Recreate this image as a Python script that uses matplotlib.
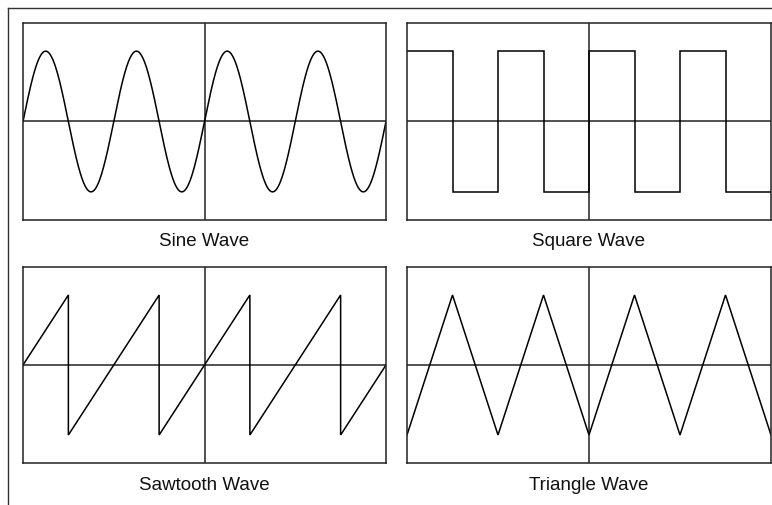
import numpy as np
import matplotlib
matplotlib.use("Agg")
import matplotlib.pyplot as plt
from matplotlib.lines import Line2D

plt.rcParams['font.family'] = ['Liberation Sans', 'DejaVu Sans']

# ---- data ----
titles = ["Sine Wave", "Square Wave", "Sawtooth Wave", "Triangle Wave"]

# sine: number of cycles shown and amplitude
sine_cycles = 4
sine_amp = 1.0

# piecewise-linear waves as vertices (x in cycles, y in amplitude units)
square_x = [0, 0.5, 0.5, 1.0, 1.0, 1.5, 1.5, 2.0, 2.0, 2.5, 2.5, 3.0, 3.0, 3.5, 3.5, 4.0]
square_y = [1, 1, -1, -1, 1, 1, -1, -1, 1, 1, -1, -1, 1, 1, -1, -1]

saw_x = [0, 0.5, 0.5, 1.5, 1.5, 2.5, 2.5, 3.5, 3.5, 4.0]
saw_y = [0, 1, -1, 1, -1, 1, -1, 1, -1, 0]

tri_x = [0, 0.5, 1.0, 1.5, 2.0, 2.5, 3.0, 3.5, 4.0]
tri_y = [-1, 1, -1, 1, -1, 1, -1, 1, -1]

W, H = 772, 505
fig = plt.figure(figsize=(W / 100, H / 100), dpi=100)

def rect(x0, y0, x1, y1):
    return [x0 / W, 1 - y1 / H, (x1 - x0) / W, (y1 - y0) / H]

boxes = [rect(23, 23, 386, 220), rect(407, 23, 771, 220),
         rect(23, 267, 386, 463), rect(407, 267, 771, 463)]
label_y = [241, 241, 485, 485]

ts = np.linspace(0, sine_cycles, 800)
series = [
    (ts, sine_amp * np.sin(2 * np.pi * ts)),
    (square_x, square_y),
    (saw_x, saw_y),
    (tri_x, tri_y),
]

for box, (xs, ys), title, ly in zip(boxes, series, titles, label_y):
    ax = fig.add_axes(box)
    ax.set_xlim(0, 4)
    ax.set_ylim(-1.4, 1.4)
    ax.set_xticks([])
    ax.set_yticks([])
    for s in ax.spines.values():
        s.set_linewidth(1.1)
        s.set_color('#222222')
    ax.axhline(0, color='#222222', lw=1.1)
    ax.axvline(2, color='#222222', lw=1.1)
    ax.plot(xs, ys, color='black', lw=1.1, solid_joinstyle='miter')
    cx = box[0] + box[2] / 2
    fig.text(cx, 1 - ly / H, title, ha='center', va='center', fontsize=13.5, color='#111111')

# outer frame lines
fig.add_artist(Line2D([8 / W, 1], [1 - 8 / H, 1 - 8 / H], color='#333333', lw=1.0))
fig.add_artist(Line2D([8 / W, 8 / W], [0, 1 - 8 / H], color='#333333', lw=1.0))

fig.savefig("out.png", dpi=100)
